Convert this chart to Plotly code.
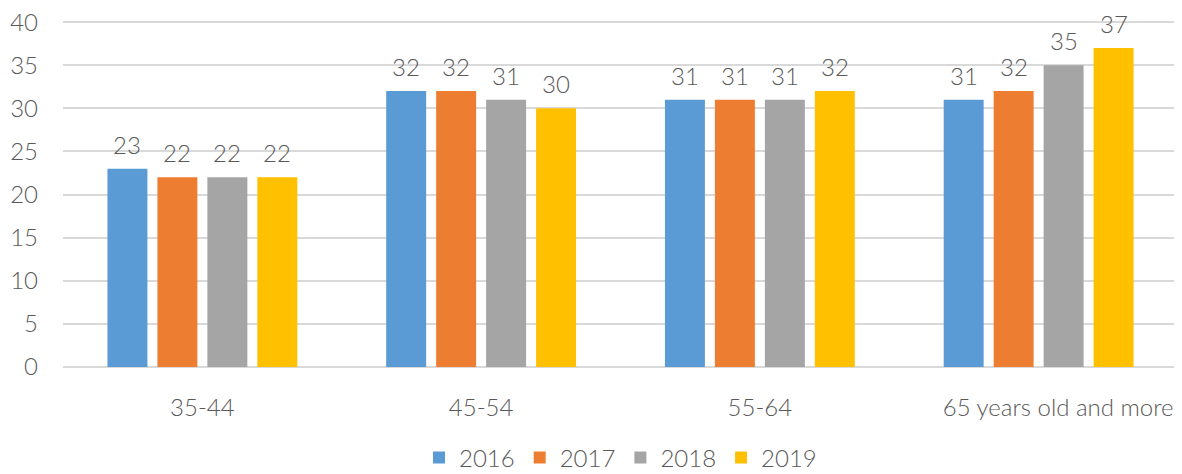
import plotly.graph_objects as go

categories = ["35-44", "45-54", "55-64", "65 years old and more"]
years = ["2016", "2017", "2018", "2019"]
v2016 = [23, 32, 31, 31]
v2017 = [22, 32, 31, 32]
v2018 = [22, 31, 31, 35]
v2019 = [22, 30, 32, 37]
series = [v2016, v2017, v2018, v2019]
colors = ["#5B9BD5", "#ED7D31", "#A5A5A5", "#FFC000"]
y_ticks = [0, 5, 10, 15, 20, 25, 30, 35, 40]

font_family = "Lato"
txt = "#595959"
fs = 24

W, H = 1174, 466
ML, MR, MT, MB = 55, 4, 12, 107
BARGAP, GROUPGAP = 0.283, 0.2

fig = go.Figure()
for name, vals, col in zip(years, series, colors):
    fig.add_trace(go.Bar(
        x=categories, y=vals, name=name, marker=dict(color=col, line=dict(width=0)),
    ))

# data labels placed above each bar, offset by the group slot width
cat_px = (W - ML - MR) / len(categories)
slot = cat_px * (1 - BARGAP) / len(series)
for i, vals in enumerate(series):
    dx = (i - (len(series) - 1) / 2) * slot
    for c, v in zip(categories, vals):
        fig.add_annotation(x=c, y=v, text=str(v), showarrow=False, xshift=dx,
                           yanchor="bottom", yshift=8,
                           font=dict(family=font_family, size=fs, color=txt, weight=300))

# last category label sits slightly right of centre in the original
tick_text = categories[:-1] + ["\u00a0" * 6 + categories[-1]]

fig.update_layout(
    width=W, height=H,
    margin=dict(l=ML, r=MR, t=MT, b=MB, autoexpand=False),
    paper_bgcolor="white", plot_bgcolor="white",
    barmode="group", bargap=BARGAP, bargroupgap=GROUPGAP,
    font=dict(family=font_family, size=fs, color=txt, weight=300),
    showlegend=True,
    legend=dict(orientation="h", x=0.5, xanchor="center", xref="paper",
                y=0.083, yanchor="top", yref="container",
                font=dict(family=font_family, size=fs, color=txt, weight=300),
                itemwidth=30, traceorder="normal"),
    xaxis=dict(showgrid=False, showline=False, ticks="", ticklabelstandoff=24,
               ticklabeloverflow="allow",
               tickmode="array", tickvals=categories, ticktext=tick_text,
               tickfont=dict(size=fs, color=txt, weight=300)),
    yaxis=dict(range=[0, 40.25], tickvals=y_ticks,
               showgrid=True, gridcolor="#D9D9D9", gridwidth=1.5,
               zeroline=True, zerolinecolor="#D9D9D9", zerolinewidth=1.5,
               showline=False, ticks="", ticklabelstandoff=24,
               ticklabeloverflow="allow",
               tickfont=dict(size=fs, color=txt, weight=300)),
)

fig.write_html("out.html")
